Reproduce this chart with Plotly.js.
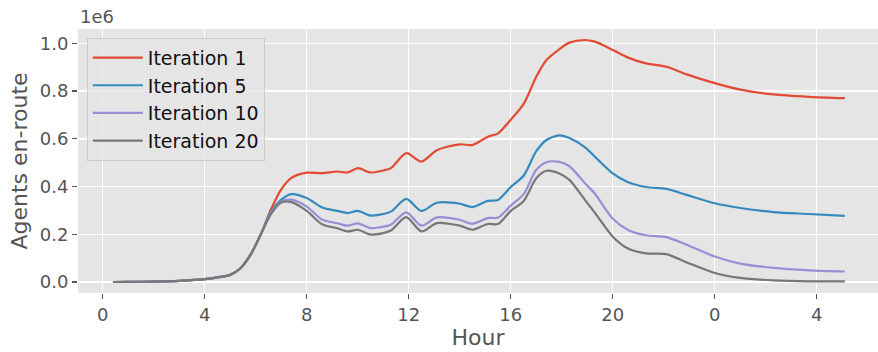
<!DOCTYPE html>
<html>
<head>
<meta charset="utf-8">
<script src="https://cdn.plot.ly/plotly-3.0.1.min.js"></script>
<style>html,body{margin:0;padding:0;background:#fff;}#chart{width:878px;height:352px;}</style>
</head>
<body>
<div id="chart"></div>
<script>
const hours = [0.4,1,2,3,4,4.5,5,5.4,5.8,6.2,6.6,7,7.4,8,8.6,9.2,9.6,10,10.5,10.9,11.3,11.9,12.5,13.1,14,14.5,15.1,15.5,16,16.5,17,17.4,17.9,18.3,18.9,19.3,20,20.6,21.3,22.1,22.9,24,25,26.3,27.7,29.1];

const iter1 = [0,0.0005,0.002,0.005,0.012,0.02,0.03,0.058,0.115,0.2,0.305,0.388,0.436,0.458,0.456,0.463,0.459,0.477,0.459,0.465,0.477,0.54,0.505,0.552,0.577,0.574,0.609,0.623,0.68,0.745,0.86,0.93,0.975,1.003,1.014,1.007,0.972,0.94,0.916,0.902,0.87,0.833,0.806,0.786,0.776,0.77];
const iter5 = [0,0.0005,0.002,0.005,0.012,0.02,0.03,0.058,0.115,0.2,0.295,0.345,0.368,0.352,0.312,0.298,0.289,0.298,0.278,0.283,0.295,0.348,0.298,0.332,0.328,0.314,0.34,0.344,0.398,0.445,0.548,0.595,0.614,0.603,0.565,0.525,0.455,0.418,0.398,0.39,0.365,0.33,0.31,0.293,0.285,0.277];
const iter10 = [0,0.0005,0.002,0.005,0.012,0.02,0.03,0.058,0.115,0.2,0.29,0.338,0.345,0.316,0.262,0.246,0.236,0.246,0.226,0.23,0.24,0.292,0.236,0.271,0.261,0.244,0.268,0.27,0.32,0.367,0.47,0.502,0.503,0.485,0.415,0.37,0.265,0.218,0.196,0.188,0.156,0.107,0.077,0.059,0.049,0.044];
const iter20 = [0,0.0005,0.002,0.005,0.012,0.02,0.03,0.058,0.115,0.2,0.285,0.333,0.335,0.298,0.242,0.225,0.212,0.219,0.199,0.203,0.216,0.272,0.212,0.247,0.236,0.219,0.243,0.243,0.298,0.338,0.435,0.466,0.455,0.428,0.345,0.29,0.19,0.14,0.12,0.117,0.082,0.038,0.017,0.007,0.003,0.003];

const seriesNames = ["Iteration 1","Iteration 5","Iteration 10","Iteration 20"];
const seriesColors = ["#E24A33","#348ABD","#988ED5","#777777"];
const seriesValues = [iter1, iter5, iter10, iter20];

const xTickVals = [0,4,8,12,16,20,24,28];
const xTickText = ["0","4","8","12","16","20","0","4"];
const yTickVals = [0,0.2,0.4,0.6,0.8,1.0];
const yTickText = ["0.0","0.2","0.4","0.6","0.8","1.0"];
const SCALE = 1e6;

const traces = seriesValues.map((vals, i) => ({
  x: hours,
  y: vals.map(v => v * SCALE),
  type: "scatter",
  mode: "lines",
  name: seriesNames[i],
  line: {color: seriesColors[i], width: 2.2, shape: "spline", smoothing: 0.8}
}));

const font = "DejaVu Sans, sans-serif";
const layout = {
  width: 878, height: 352,
  margin: {l: 78, r: 0, t: 29, b: 59},
  paper_bgcolor: "#ffffff",
  plot_bgcolor: "#E5E5E5",
  showlegend: true,
  legend: {
    x: 0.011, y: 0.967, xanchor: "left", yanchor: "top",
    bgcolor: "rgba(229,229,229,0.8)", bordercolor: "#CCCCCC", borderwidth: 1,
    font: {family: font, size: 19, color: "#111111"},
    itemwidth: 50,
    tracegroupgap: 0
  },
  xaxis: {
    range: [-0.97, 30.4],
    tickmode: "array", tickvals: xTickVals, ticktext: xTickText,
    ticks: "outside", ticklen: 5, tickwidth: 1.2, tickcolor: "#555555",
    tickfont: {family: font, size: 18, color: "#555555"},
    showgrid: true, gridcolor: "#ffffff", gridwidth: 1.4,
    zeroline: false, showline: false,
    title: {text: "Hour", font: {family: font, size: 22, color: "#555555"}, standoff: 6}
  },
  yaxis: {
    range: [-46000, 1060000],
    tickmode: "array", tickvals: yTickVals.map(v => v * SCALE), ticktext: yTickText,
    ticks: "outside", ticklen: 5, tickwidth: 1.2, tickcolor: "#555555",
    tickfont: {family: font, size: 18, color: "#555555"},
    showgrid: true, gridcolor: "#ffffff", gridwidth: 1.4,
    zeroline: false, showline: false,
    title: {text: "Agents en-route", font: {family: font, size: 22, color: "#555555"}, standoff: 6}
  },
  annotations: [{
    text: "1e6", xref: "paper", yref: "paper", x: 0, y: 1, xanchor: "left", yanchor: "bottom",
    yshift: 0, showarrow: false, font: {family: font, size: 18, color: "#555555"}
  }]
};

Plotly.newPlot("chart", traces, layout, {displayModeBar: false, staticPlot: true});
</script>
</body>
</html>
